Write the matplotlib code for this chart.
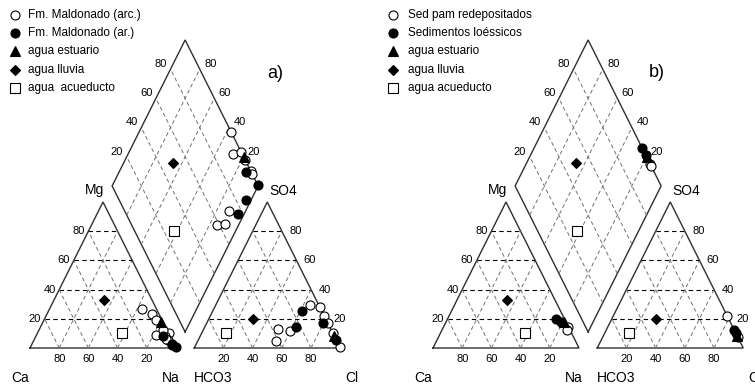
import matplotlib
matplotlib.use("Agg")
import matplotlib.pyplot as plt

plt.rcParams['font.family'] = ['Liberation Sans', 'DejaVu Sans']

# ---------------- data (percent of meq) ----------------
# Panel a
a_arc_mg  = [27, 23, 9, 10, 5.5, 8, 12, 6, 19]
a_arc_na  = [63, 72, 82, 90, 92, 88.5, 85, 90, 77]
a_arc_so4 = [28, 29.5, 22, 17, 10, 11.6, 5, 13, 1]
a_arc_cl  = [72, 64.5, 78, 83, 90, 60, 53.5, 51, 99]

a_ar_mg  = [8, 0.5, 2, 3]
a_ar_na  = [87, 99.5, 96.4, 96]
a_ar_so4 = [17, 5.5, 25.5, 14.6]
a_ar_cl  = [79.5, 94.5, 61, 62.4]

# Panel b
b_sed_mg  = [14.6, 12]
b_sed_na  = [85, 86]
b_sed_so4 = [22, 7.7]
b_sed_cl  = [78, 92.3]

b_loe_mg  = [19.7, 18]
b_loe_na  = [74.2, 79]
b_loe_so4 = [12, 10]
b_loe_cl  = [88, 90]

# waters (same in both panels)
est_mg, est_na, est_so4, est_cl = [18], [80.5], [8], [92]
rain_mg, rain_na, rain_so4, rain_cl = [33], [34], [20], [30]
acu_mg, acu_na, acu_so4, acu_cl = [10], [58], [10], [17]

legend_a = ["Fm. Maldonado (arc.)", "Fm. Maldonado (ar.)", "agua estuario",
            "agua lluvia", "agua  acueducto"]
legend_b = ["Sed pam redepositados", "Sedimentos loéssicos", "agua estuario",
            "agua lluvia", "agua acueducto"]
ticks = [20, 40, 60, 80]

# ---------------- geometry ----------------
S = 1.46            # px per unit
G = 12.5            # gap between triangles
DV = 11.0           # vertical offset of diamond
PANEL_OFF = 403 / S

fig = plt.figure(figsize=(7.55, 3.87), dpi=100)
ax = fig.add_axes([0, 0, 1, 1])
ax.set_xlim(-30 / S, (755 - 30) / S)
ax.set_ylim((348 - 387) / S, 348 / S)
ax.axis('off')


def P(px, py):
    return ((px - 30) / S, (348 - py) / S)


OUT = dict(color='#303030', lw=1.0, solid_joinstyle='miter')
HD = dict(color='black', lw=0.8, ls=(0, (4, 3)))
GD = dict(color='#707070', lw=0.7, ls=(0, (4, 3)))


def cat_xy(mg, na, ox):
    return [ox + n + m / 2 for m, n in zip(mg, na)], list(mg)


def an_xy(so4, cl, ox):
    return [ox + 100 + G + c + s / 2 for s, c in zip(so4, cl)], list(so4)


def dia_xy(mg, na, so4, cl, ox):
    xs, ys = [], []
    for m, n, s, c in zip(mg, na, so4, cl):
        cm = 100 - n
        sc = min(s + c, 100)
        xs.append(ox + 100 + G / 2 + 0.5 * (sc - cm))
        ys.append(DV + sc + cm)
    return xs, ys


def frame(ox):
    # cation triangle
    ax.plot([ox, ox + 100, ox + 50, ox], [0, 0, 100, 0], **OUT)
    # anion triangle
    a0 = ox + 100 + G
    ax.plot([a0, a0 + 100, a0 + 50, a0], [0, 0, 100, 0], **OUT)
    # diamond
    bx = ox + 100 + G / 2
    ax.plot([bx, bx - 50, bx, bx + 50, bx], [DV, DV + 100, DV + 200, DV + 100, DV], **OUT)
    for v in ticks:
        for t0 in (ox, a0):
            ax.plot([t0 + v / 2, t0 + 100 - v / 2], [v, v], **HD)
            ax.plot([t0 + v, t0 + v + (100 - v) / 2], [0, 100 - v], **GD)
            ax.plot([t0 + 100 - v, t0 + (100 - v) / 2], [0, 100 - v], **GD)
        f = v
        # parallel to lower-right edge
        sx, sy = bx - 0.5 * f, DV + f
        ax.plot([sx, sx + 50], [sy, sy + 100], **GD)
        sx, sy = bx + 0.5 * f, DV + f
        ax.plot([sx, sx - 50], [sy, sy + 100], **GD)
        # tick labels
        ax.text(ox + v / 2 - 2.5, v, str(v), ha='right', va='center', fontsize=8)
        ax.text(ox + 100 - v, -7.5, str(v), ha='center', va='center', fontsize=8)
        ax.text(a0 + v, -7.5, str(v), ha='center', va='center', fontsize=8)
        ax.text(a0 + 100 - v / 2 + 5, v, str(v), ha='left', va='center', fontsize=8)
        ax.text(bx - 50 + 0.5 * v - 2.5, DV + 100 + v + 3.5, str(v),
                ha='right', va='center', fontsize=8)
        ax.text(bx + 50 - 0.5 * v + 3, DV + 100 + v + 3.5, str(v),
                ha='left', va='center', fontsize=8)
    # axis labels
    for lab, (px, py) in [("Ca", (20, 378)), ("Na", (171, 378)), ("HCO3", (213, 378)),
                          ("Cl", (352, 378)), ("Mg", (95, 190)), ("SO4", (283.5, 191))]:
        x, y = P(px, py)
        ax.text(ox + x, y, lab, ha='center', va='center', fontsize=10)


def mark(x, y, style):
    ax.plot(x, y, ls='none', zorder=5, **style)


S_OPEN = dict(marker='o', ms=6.5, mfc='white', mec='black', mew=0.8)
S_FILL = dict(marker='o', ms=6.5, mfc='black', mec='black', mew=0.8)
S_TRI = dict(marker='^', ms=7, mfc='black', mec='black', mew=0.8)
S_DIA = dict(marker='D', ms=5.5, mfc='black', mec='black', mew=0.8)
S_SQ = dict(marker='s', ms=6.5, mfc='white', mec='black', mew=0.8)


def samples(mg, na, so4, cl, ox, style):
    x, y = cat_xy(mg, na, ox); mark(x, y, style)
    x, y = an_xy(so4, cl, ox); mark(x, y, style)
    x, y = dia_xy(mg, na, so4, cl, ox); mark(x, y, style)


def legend(labels, mx, tx, ox_unused=0):
    styles = [S_OPEN, S_FILL, S_TRI, S_DIA, S_SQ]
    rows = [15, 33, 51, 70, 88]
    for lab, st, ry in zip(labels, styles, rows):
        x, y = P(mx, ry)
        st2 = dict(st)
        if st2['marker'] == 'D':
            st2['ms'] = 5
        ax.plot([x], [y], ls='none', clip_on=False, **st2)
        x, y = P(tx, ry)
        ax.text(x, y, lab, ha='left', va='center', fontsize=8.5)


for ox in (0, PANEL_OFF):
    frame(ox)

# panel a
samples(a_arc_mg, a_arc_na, a_arc_so4, a_arc_cl, 0, S_OPEN)
samples(a_ar_mg, a_ar_na, a_ar_so4, a_ar_cl, 0, S_FILL)
# panel b
samples(b_sed_mg, b_sed_na, b_sed_so4, b_sed_cl, PANEL_OFF, S_OPEN)
samples(b_loe_mg, b_loe_na, b_loe_so4, b_loe_cl, PANEL_OFF, S_FILL)

for ox in (0, PANEL_OFF):
    samples(est_mg, est_na, est_so4, est_cl, ox, S_TRI)
    samples(rain_mg, rain_na, rain_so4, rain_cl, ox, S_DIA)
    samples(acu_mg, acu_na, acu_so4, acu_cl, ox, S_SQ)

legend(legend_a, 15, 28)
legend(legend_b, 393, 408)

x, y = P(275, 73)
ax.text(x, y, "a)", ha='center', va='center', fontsize=13)
x, y = P(657, 72)
ax.text(x, y, "b)", ha='center', va='center', fontsize=13)

fig.savefig("out.png", dpi=100)
